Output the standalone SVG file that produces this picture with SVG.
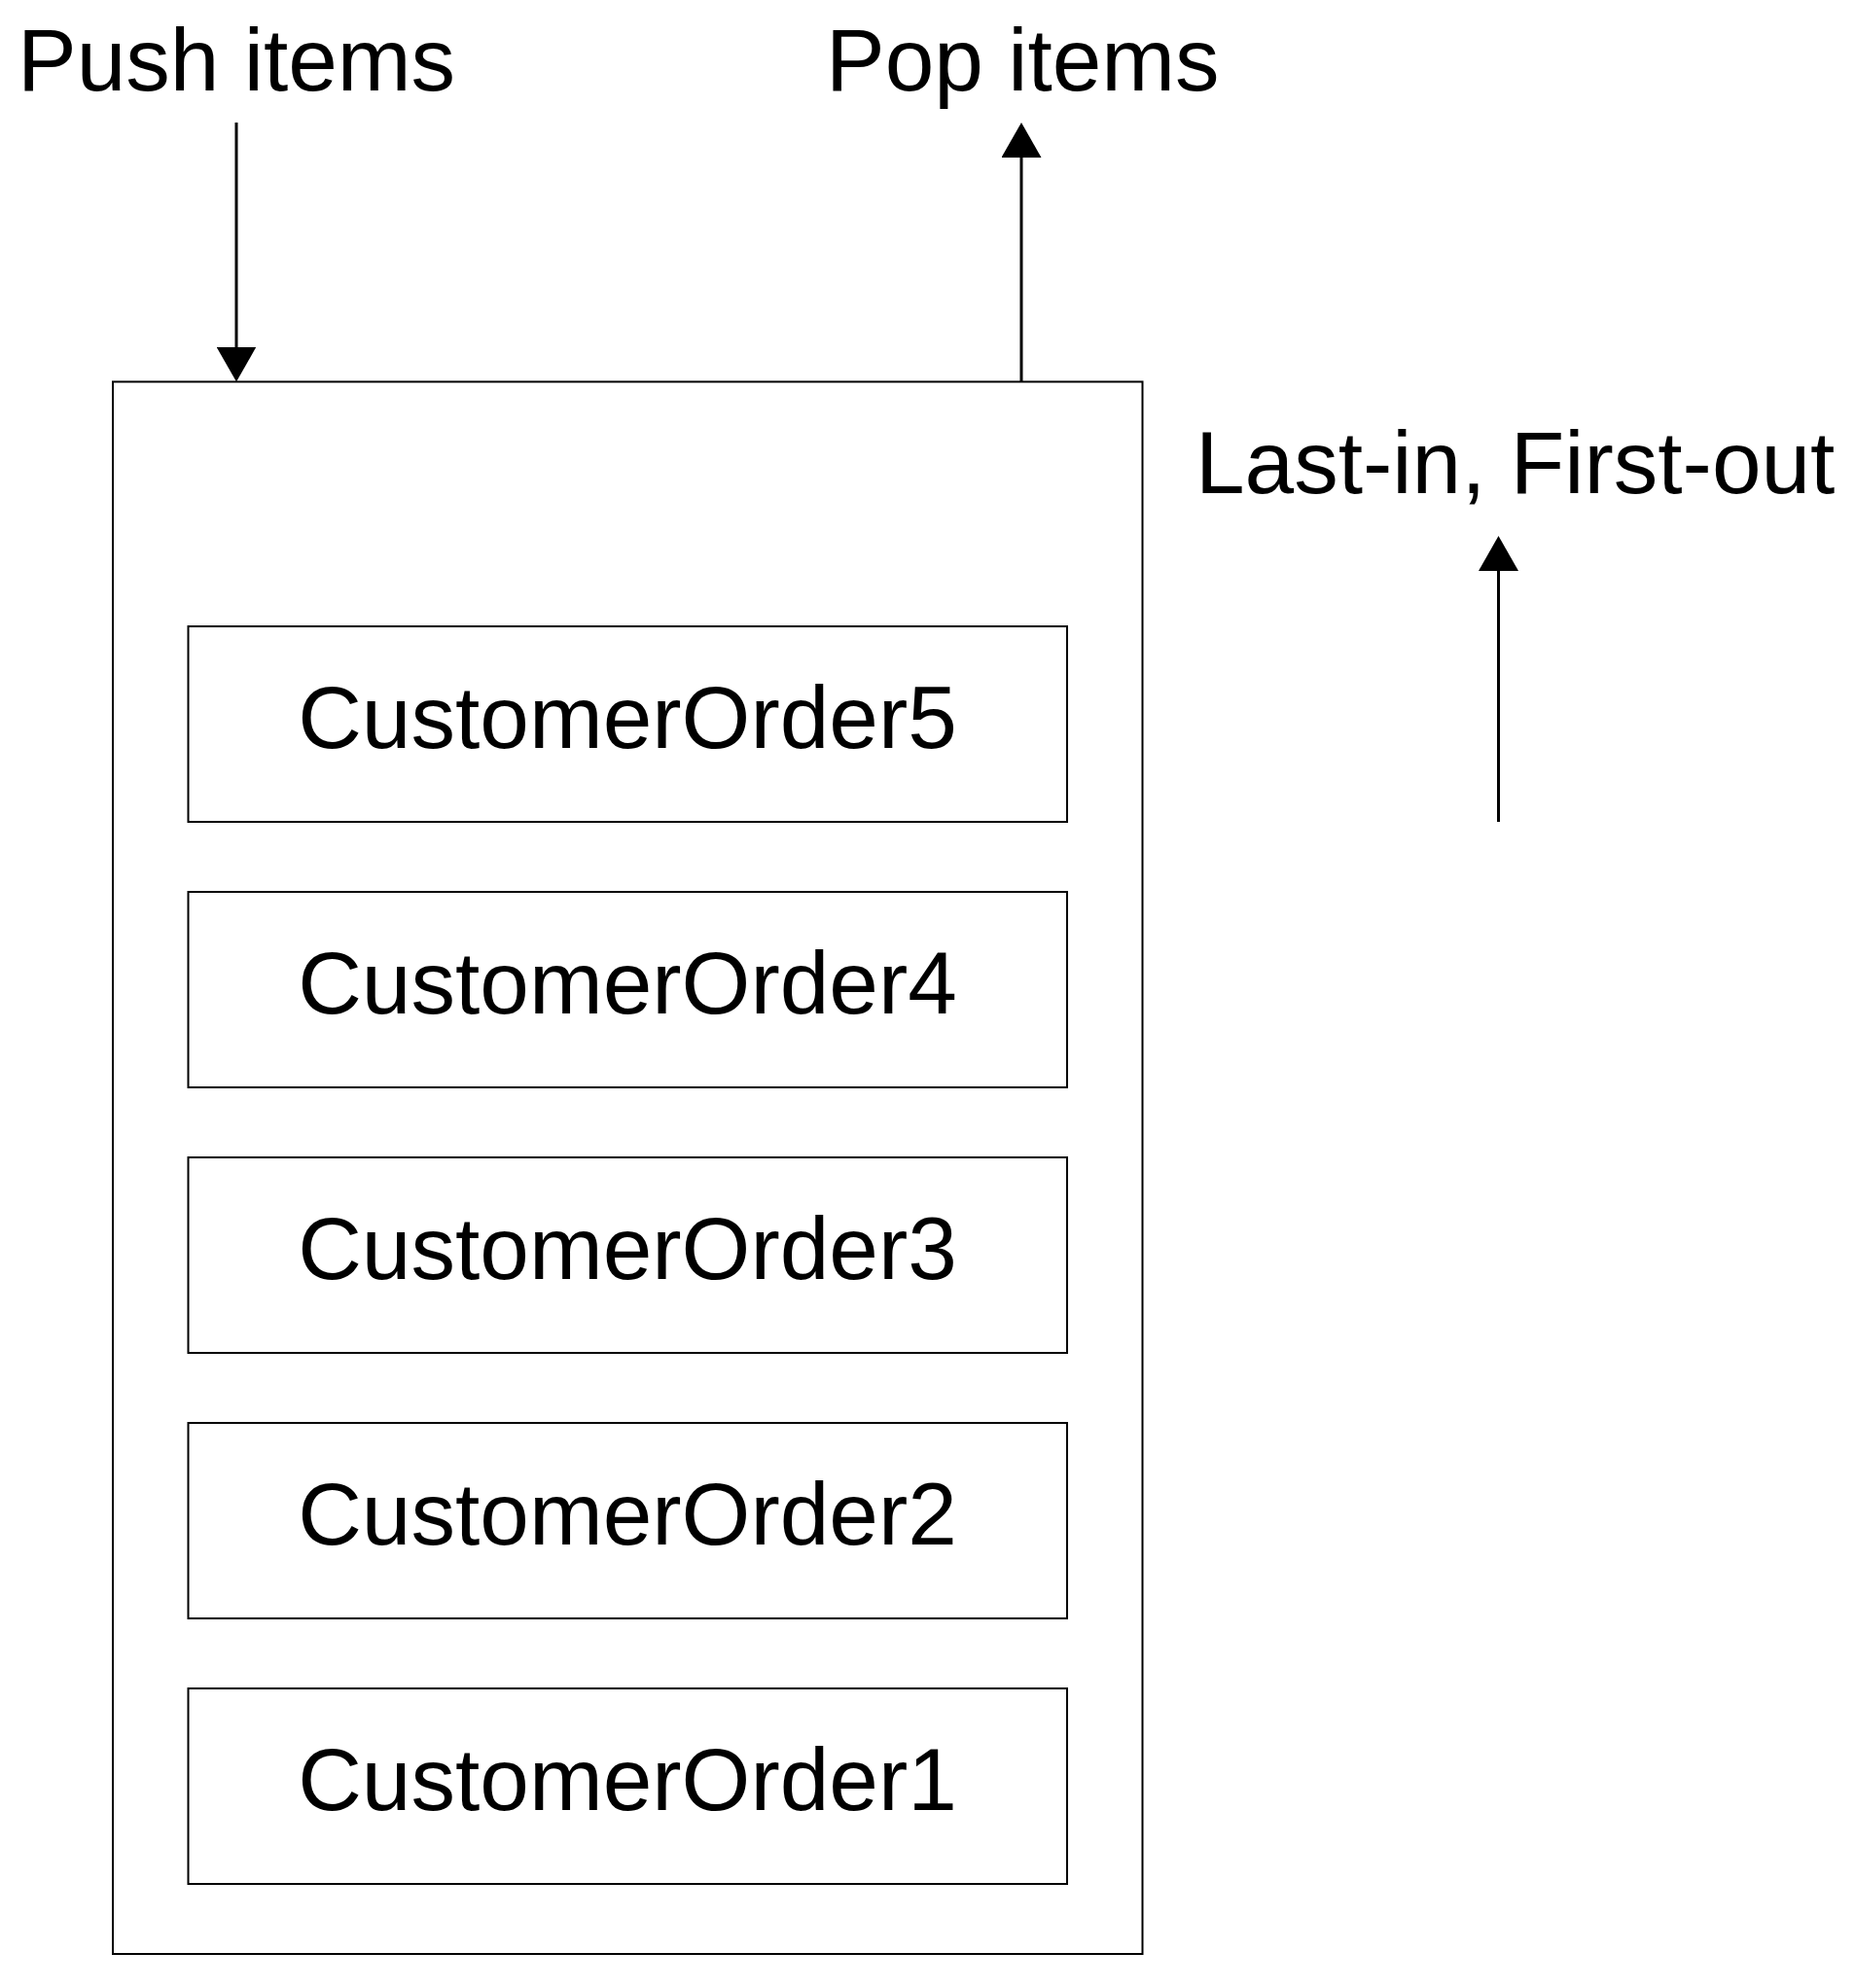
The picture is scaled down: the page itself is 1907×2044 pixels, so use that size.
<svg xmlns="http://www.w3.org/2000/svg" width="1907" height="2044" viewBox="0 0 1907 2044">
<defs>
<style>
.lbl{font-family:"Liberation Sans",Arial,sans-serif;font-size:91px;fill:#000}
.box{fill:#fff;stroke:#000;stroke-width:2}
.conn{stroke:#000;stroke-width:3;fill:none}
</style>
<marker id="ah" viewBox="0 0 36 41" refX="30" refY="20.5" markerWidth="36" markerHeight="41" markerUnits="userSpaceOnUse" orient="auto">
<path d="M0,0 L36,20.5 L0,41 Z" fill="#000"/>
</marker>
</defs>
<rect width="1907" height="2044" fill="#fff"/>
<g id="push-label"><text class="lbl" x="18" y="93">Push items</text></g>
<g id="pop-label"><text class="lbl" x="849" y="93">Pop items</text></g>
<g id="lifo-label"><text class="lbl" x="1229" y="507">Last-in, First-out</text></g>
<g id="stack"><rect class="box" x="116" y="392.5" width="1058.5" height="1616.5"/></g>
<g id="order5"><rect class="box" x="193.5" y="644" width="903.5" height="201"/><text class="lbl" x="645" y="769" text-anchor="middle">CustomerOrder5</text></g>
<g id="order4"><rect class="box" x="193.5" y="917" width="903.5" height="201"/><text class="lbl" x="645" y="1042" text-anchor="middle">CustomerOrder4</text></g>
<g id="order3"><rect class="box" x="193.5" y="1190" width="903.5" height="201"/><text class="lbl" x="645" y="1315" text-anchor="middle">CustomerOrder3</text></g>
<g id="order2"><rect class="box" x="193.5" y="1463" width="903.5" height="201"/><text class="lbl" x="645" y="1588" text-anchor="middle">CustomerOrder2</text></g>
<g id="order1"><rect class="box" x="193.5" y="1736" width="903.5" height="201"/><text class="lbl" x="645" y="1861" text-anchor="middle">CustomerOrder1</text></g>
<g id="connectors">
<line class="conn" x1="243" y1="126" x2="243" y2="386.5" marker-end="url(#ah)"/>
<line class="conn" x1="1050" y1="392.5" x2="1050" y2="132" marker-end="url(#ah)"/>
<line class="conn" x1="1540.5" y1="845" x2="1540.5" y2="557" marker-end="url(#ah)"/>
</g>
</svg>
